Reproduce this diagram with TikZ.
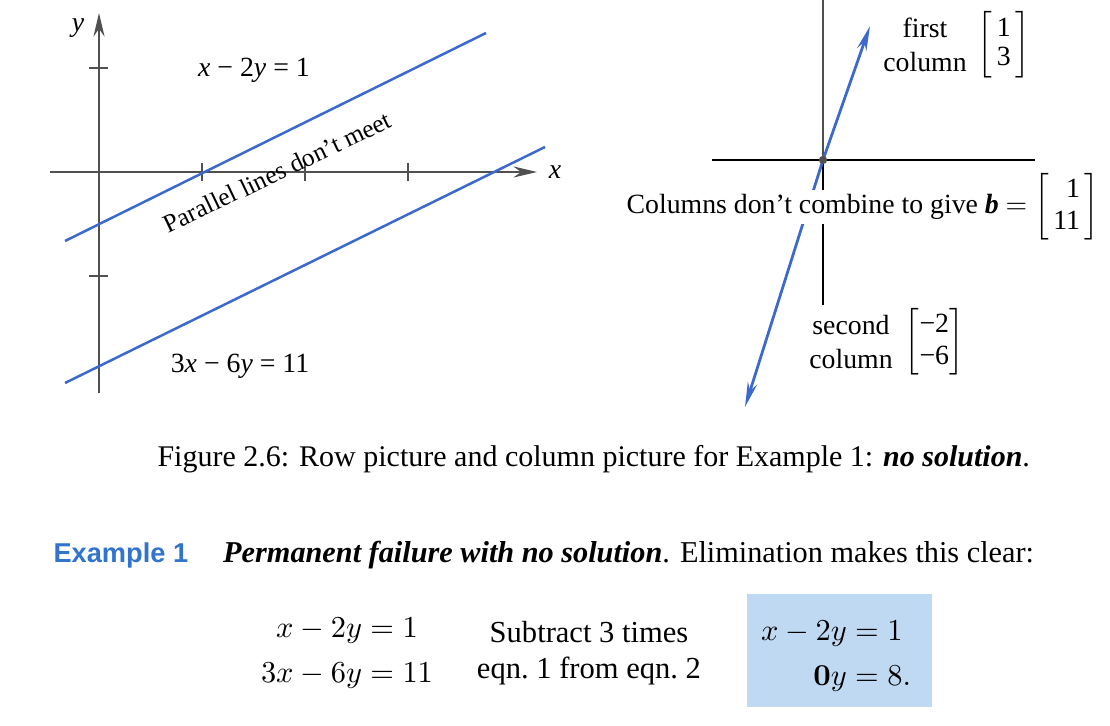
\documentclass[tikz,border=0pt]{standalone}
\usepackage{amsmath}
\usepackage[no-math]{fontspec}
\setmainfont{Liberation Serif}
\newfontfamily\exsans{Liberation Sans}
\usetikzlibrary{arrows.meta,positioning}

\definecolor{lineblue}{RGB}{60,105,205}
\definecolor{exblue}{RGB}{50,115,205}
\definecolor{boxblue}{RGB}{192,217,242}
\definecolor{axisgray}{RGB}{80,80,80}

\tikzset{
  axisline/.style={axisgray, line width=0.55pt},
  axisarrow/.style={axisline, -{Stealth[length=8.5pt,width=4pt]}},
  rowline/.style={lineblue, line width=0.9pt},
  colvec/.style={lineblue, line width=1pt, -{Stealth[length=9pt,width=3.5pt]}},
  lbl/.style={inner sep=0pt, font=\fontsize{10}{12}\selectfont},
  body/.style={inner sep=0pt, font=\fontsize{11}{13}\selectfont},
}

\begin{document}
\begin{tikzpicture}[x=0.36pt, y=-0.36pt]
\useasboundingbox (0,0) rectangle (1110,726);

% row picture
\coordinate (O) at (99,172);
\coordinate (xstart) at (50,172);
\coordinate (xend) at (537,172);
\coordinate (ystart) at (99,393);
\coordinate (yend) at (99,13);
\draw[axisarrow] (xstart) -- (xend);
\draw[axisarrow] (ystart) -- (yend);
\foreach \tx in {202,305,408}
  \draw[axisline] (\tx,163) -- (\tx,181);
\foreach \ty in {68,276}
  \draw[axisline] (89,\ty) -- (108,\ty);

% the two parallel lines
\coordinate (rowa1) at (65,241);
\coordinate (rowa2) at (486,33);
\coordinate (rowb1) at (65,383);
\coordinate (rowb2) at (545,147);
\draw[rowline] (rowa1) -- (rowa2);
\draw[rowline] (rowb1) -- (rowb2);

\node[lbl] (ylbl) at (78,28) {\textit{y}};
\node[lbl] (xlbl) at (555,172) {\textit{x}};
\node[lbl] (eqalbl) at (254,70) {\textit{x} − 2\textit{y} = 1};
\node[lbl] (eqblbl) at (240,366) {3\textit{x} − 6\textit{y} = 11};
\node[lbl, font=\fontsize{9.2}{11}\selectfont, rotate=25.5, anchor=base] (parlbl) at (281,180)
  {Parallel lines don't meet};

% column picture
\coordinate (C) at (823,160);
\coordinate (vtop) at (823,0);
\coordinate (vbot) at (823,305);
\coordinate (hleft) at (712,160);
\coordinate (hright) at (1035,160);
\coordinate (colatip) at (870,26);
\coordinate (colbtip) at (745,407);
\draw[axisline] (vtop) -- (C);
\draw[black, line width=0.45pt] (C) -- (vbot);
\draw[black, line width=0.45pt] (hleft) -- (hright);
\draw[colvec] (C) -- (colatip);
\draw[colvec] (C) -- (colbtip);
\fill[axisgray] (C) circle[radius=1.5pt];

\node[lbl, fill=white, inner sep=1.5pt] (nocomb) at (827,207)
  {Columns don't combine to give \textbf{\textit{b}} $=$};
\node[lbl, right=0.5pt of nocomb] (bvec)
  {$\renewcommand\arraystretch{0.95}\left[\begin{array}{@{\,}r@{\,}}\text{1}\\\text{11}\end{array}\right]$};

\node[lbl, align=center] (firstlbl) at (925,45) {first\\column};
\node[lbl, right=3.5pt of firstlbl] (firstvec)
  {$\renewcommand\arraystretch{0.88}\left[\begin{array}{@{\,}c@{\,}}\text{1}\\\text{3}\end{array}\right]$};
\node[lbl, align=center] (secondlbl) at (851,342) {second\\column};
\node[lbl, right=4pt of secondlbl] (secondvec)
  {$\renewcommand\arraystretch{0.95}\left[\begin{array}{@{}c@{}}\text{−2}\\\text{−6}\end{array}\right]$};

% caption and example
\node[lbl, font=\fontsize{10.8}{13}\selectfont, anchor=base west] (caption) at (157,467)
  {Figure 2.6: Row picture and column picture for Example 1: \textbf{\textit{no solution}}.};
\node[body, font=\fontsize{10.9}{13}\selectfont, anchor=base west] (exline) at (53,563)
  {{\exsans\fontsize{9.8}{12}\selectfont\bfseries\color{exblue}Example 1}\hspace{12.6pt}\textbf{\textit{Permanent failure with no solution}}. Elimination makes this clear:};

\node[body] (eqs) at (347,653) {$\begin{aligned} x-2y&=1\\ 3x-6y&=11\end{aligned}$};
\node[body, align=center] (steps) at (589,653) {Subtract 3 times\\eqn.\ 1 from eqn.\ 2};
\node[fill=boxblue, minimum width=66.6pt, minimum height=40.7pt] (resultbox) at (839.5,650.5) {};
\node[body] (result) at (836,656)
  {$\begin{aligned} x-2y&=1\\ \mathbf{0}y&=8.\end{aligned}$};
\end{tikzpicture}
\end{document}
